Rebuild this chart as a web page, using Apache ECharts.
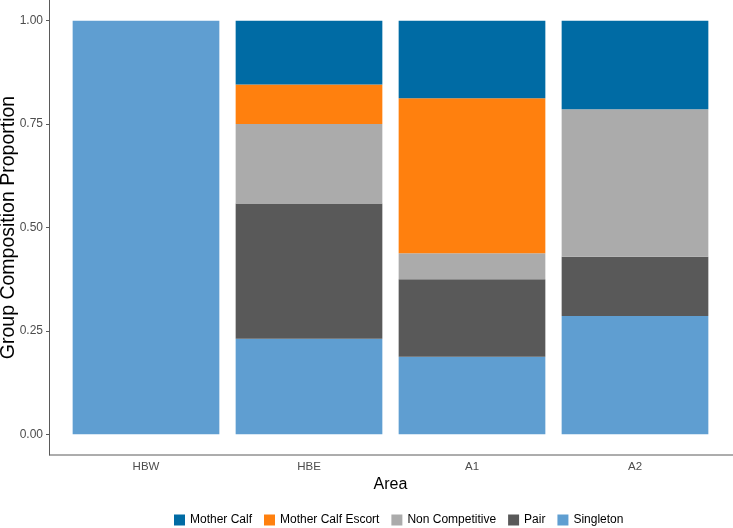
<!DOCTYPE html>
<html>
<head>
<meta charset="utf-8">
<script src="https://cdn.jsdelivr.net/npm/echarts@6/dist/echarts.min.js"></script>
<style>
    html, body { margin: 0; padding: 0; background: #fff; }
    #chart { width: 733px; height: 528px; }
</style>
</head>
<body>
<div id="chart"></div>
<script>
    // data
    let areas = ['HBW', 'HBE', 'A1', 'A2']
    let singleton = [1.0, 0.231, 0.1875, 0.286]
    let pair = [0, 0.327, 0.1875, 0.143]
    let nonCompetitive = [0, 0.192, 0.0625, 0.357]
    let motherCalfEscort = [0, 0.096, 0.375, 0]
    let motherCalf = [0, 0.154, 0.1875, 0.214]
    let yTicks = [0, 0.25, 0.5, 0.75, 1]

    let font = "'Liberation Sans', Arial, sans-serif"

    let myChart = echarts.init(document.getElementById('chart'))

    function bar(name, data, color) {
        return {
            name: name,
            type: 'bar',
            stack: 'total',
            data: data,
            barWidth: '90%',
            itemStyle: {color: color}
        }
    }

    myChart.setOption({
        animation: false,
        grid: {
            left: 64.5,
            right: 16.5,
            top: 0,
            bottom: 73,
            outerBoundsMode: 'none',
            containLabel: false
        },
        graphic: [
            {
                type: 'line',
                shape: {x1: 49, y1: 455, x2: 733, y2: 455},
                style: {stroke: '#5a5a5a', lineWidth: 1}
            }
        ],
        legend: {
            bottom: 2,
            left: 174,
            padding: 0,
            itemWidth: 11,
            itemHeight: 11,
            itemGap: 12,
            icon: 'rect',
            data: ['Mother Calf', 'Mother Calf Escort', 'Non Competitive', 'Pair', 'Singleton'],
            textStyle: {fontFamily: font, fontSize: 12, color: '#000'}
        },
        xAxis: {
            type: 'category',
            data: areas,
            name: 'Area',
            nameLocation: 'middle',
            nameGap: 22,
            nameMoveOverlap: false,
            nameTextStyle: {fontFamily: font, fontSize: 16, color: '#000'},
            axisLine: {show: false},
            axisTick: {alignWithLabel: true, length: 3, lineStyle: {color: '#5a5a5a'}},
            axisLabel: {fontFamily: font, fontSize: 11.5, color: '#4d4d4d', margin: 6}
        },
        yAxis: {
            type: 'value',
            min: -0.05,
            max: 1.05,
            offset: 15.5,
            name: 'Group Composition Proportion',
            nameLocation: 'middle',
            nameGap: 30,
            nameMoveOverlap: false,
            nameTextStyle: {fontFamily: font, fontSize: 19.5, color: '#000'},
            splitLine: {show: false},
            axisLine: {show: true, lineStyle: {color: '#5a5a5a'}},
            axisTick: {show: true, length: 3, customValues: yTicks, lineStyle: {color: '#5a5a5a'}},
            axisLabel: {
                fontFamily: font,
                fontSize: 12,
                color: '#4d4d4d',
                margin: 6,
                customValues: yTicks,
                formatter: v => v.toFixed(2)
            }
        },
        series: [
            bar('Singleton', singleton, '#5F9ED1'),
            bar('Pair', pair, '#595959'),
            bar('Non Competitive', nonCompetitive, '#ABABAB'),
            bar('Mother Calf Escort', motherCalfEscort, '#FF800E'),
            bar('Mother Calf', motherCalf, '#006BA4')
        ]
    })
</script>
</body>
</html>
